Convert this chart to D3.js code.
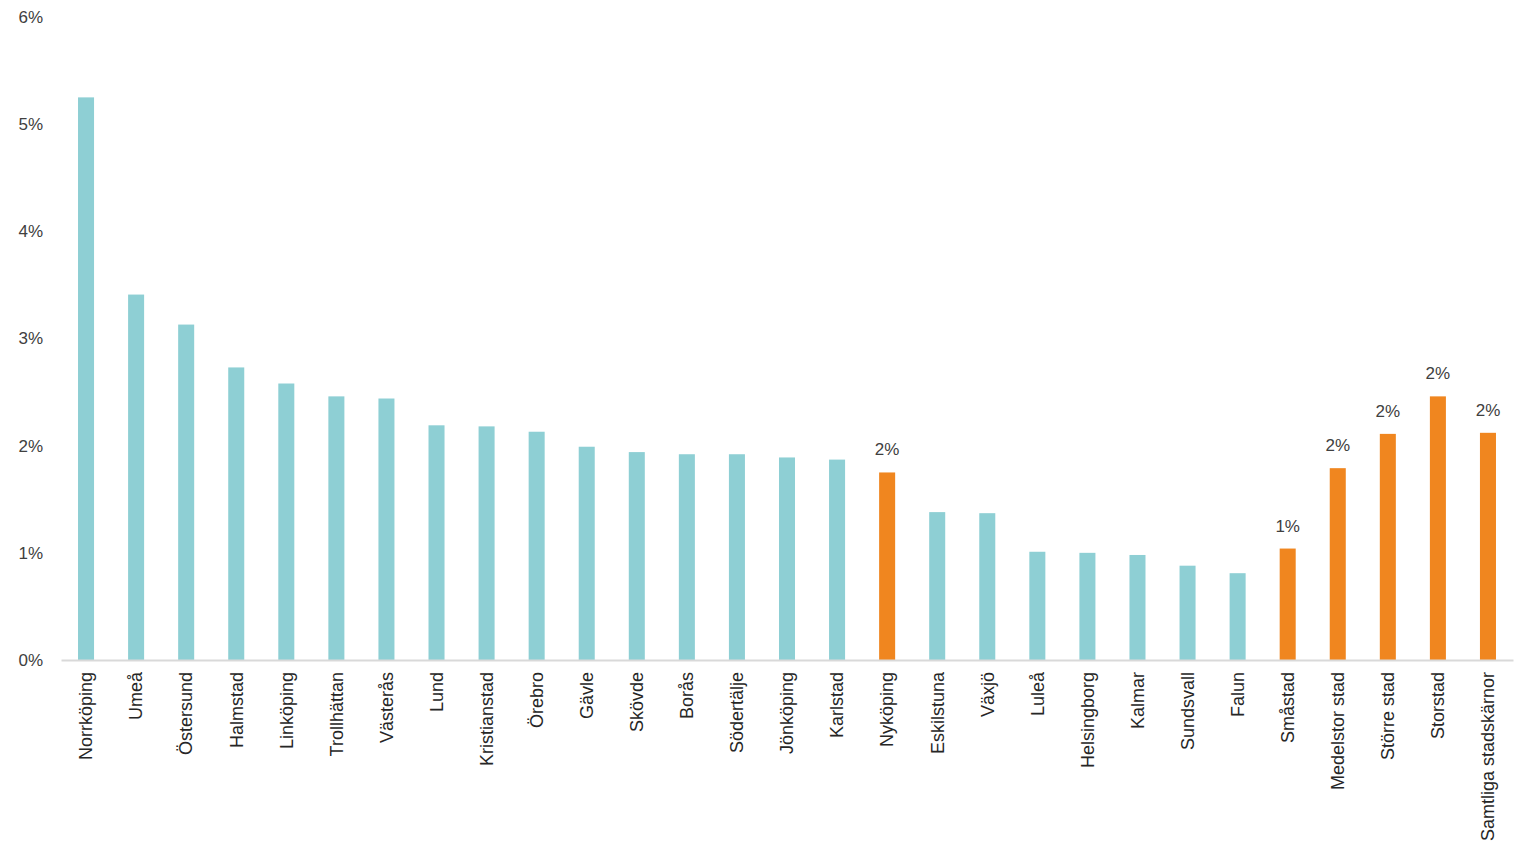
<!DOCTYPE html>
<html>
<head>
<meta charset="utf-8">
<script src="https://cdn.jsdelivr.net/npm/d3@7"></script>
<style>
html,body{margin:0;padding:0;background:#fff;}
text{font-family:"Liberation Sans",Arial,sans-serif;}
</style>
</head>
<body>
<svg id="chart" width="1520" height="843"></svg>
<script>
const categories = ["Norrköping","Umeå","Östersund","Halmstad","Linköping","Trollhättan","Västerås","Lund","Kristianstad","Örebro","Gävle","Skövde","Borås","Södertälje","Jönköping","Karlstad","Nyköping","Eskilstuna","Växjö","Luleå","Helsingborg","Kalmar","Sundsvall","Falun","Småstad","Medelstor stad","Större stad","Storstad","Samtliga stadskärnor"];
const values = [0.0525,0.0341,0.0313,0.0273,0.0258,0.0246,0.0244,0.0219,0.0218,0.0213,0.0199,0.0194,0.0192,0.0192,0.0189,0.0187,0.0175,0.0138,0.0137,0.0101,0.0100,0.0098,0.0088,0.0081,0.0104,0.0179,0.0211,0.0246,0.0212];
const highlighted = ["Nyköping","Småstad","Medelstor stad","Större stad","Storstad","Samtliga stadskärnor"];
const yTicks = [0,0.01,0.02,0.03,0.04,0.05,0.06];

const svg = d3.select("#chart");
const x = d3.scaleBand().domain(categories).range([61,1513]).paddingInner(0.68).paddingOuter(0.34);
const y = d3.scaleLinear().domain([0,0.06]).range([660,17]);

// y axis labels
const yAxis = d3.axisLeft(y).tickValues(yTicks).tickFormat(d3.format(".0%")).tickSize(0).tickPadding(0);
const ya = svg.append("g").attr("transform","translate(43,0)").call(yAxis);
ya.select(".domain").remove();
ya.selectAll("text").attr("font-size",17).attr("fill","#404040").attr("font-family","Liberation Sans, Arial, sans-serif");

// bars
svg.append("g").selectAll("rect").data(categories).join("rect")
  .attr("x",d=>x(d))
  .attr("width",x.bandwidth())
  .attr("y",(d,i)=>y(values[i]))
  .attr("height",(d,i)=>y(0)-y(values[i]))
  .attr("fill",d=>highlighted.includes(d)?"#f0861f":"#8ecfd4");

// x axis
const xAxis = d3.axisBottom(x).tickSize(0).tickPadding(0);
const xa = svg.append("g").attr("transform",`translate(0,${y(0)})`).call(xAxis);
xa.select(".domain").attr("stroke","#d9d9d9").attr("stroke-width",2);
xa.selectAll("text")
  .attr("font-size",18).attr("fill","#262626").attr("font-family","Liberation Sans, Arial, sans-serif")
  .attr("transform","rotate(-90)")
  .attr("text-anchor","end")
  .attr("x",-12).attr("y",0).attr("dy","0.35em");

// data labels
svg.append("g").selectAll("text").data(categories.filter(c=>highlighted.includes(c))).join("text")
  .attr("x",d=>x(d)+x.bandwidth()/2)
  .attr("y",d=>y(values[categories.indexOf(d)])-17)
  .attr("text-anchor","middle")
  .attr("font-size",17).attr("fill","#404040")
  .text(d=>d3.format(".0%")(values[categories.indexOf(d)]));
</script>
</body>
</html>
